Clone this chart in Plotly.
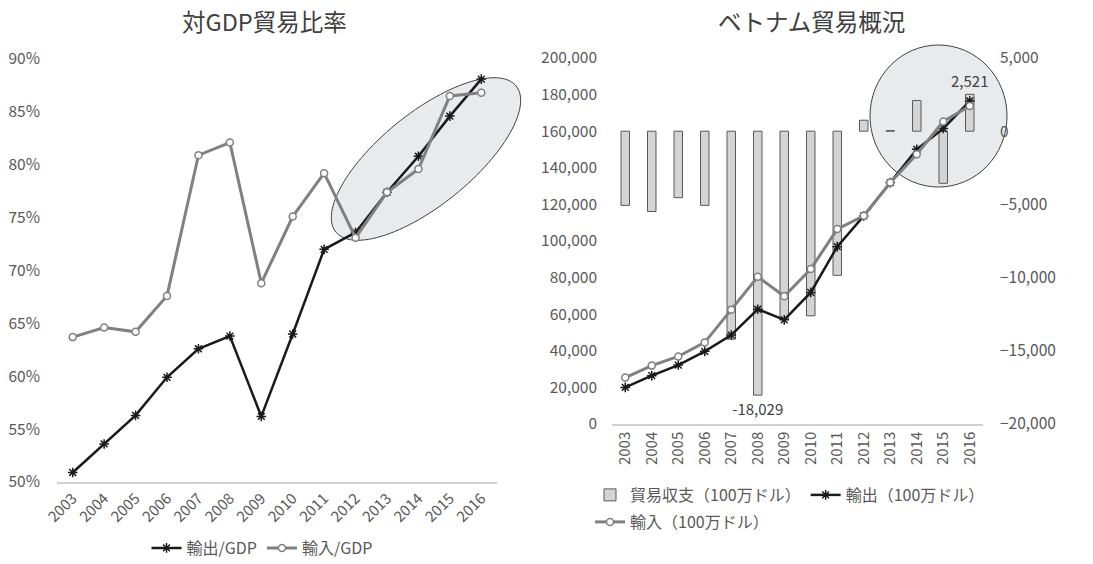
import numpy as np
import plotly.graph_objects as go

years = [str(y) for y in range(2003, 2017)]
export_gdp = [50.9, 53.6, 56.3, 59.9, 62.6, 63.8, 56.2, 64.0, 72.0, 73.6, 77.4, 80.8, 84.6, 88.1]
import_gdp = [63.7, 64.6, 64.2, 67.6, 80.9, 82.1, 68.8, 75.1, 79.2, 73.1, 77.4, 79.6, 86.5, 86.8]

trade_balance = [-5068, -5484, -4539, -5065, -14203, -18029, -12853, -12609, -9844, 749, 40, 2100, -3559, 2521]
exports = [20000, 26400, 32200, 39700, 48600, 62700, 56900, 71900, 96900, 113700, 131900, 150100, 161500, 176500]
imports = [25400, 31900, 36900, 44600, 62500, 80500, 69800, 84700, 106500, 113800, 131900, 147400, 165300, 173800]

FONT = "Noto Sans CJK JP"
TICK = "#595959"
W, H = 1093, 564

def px(x):
    return x / W

def py(y):
    return 1 - y / H

fig = go.Figure()

# Left chart
fig.add_trace(go.Scatter(x=years, y=[v / 100 for v in export_gdp], mode="lines+markers",
                         name="輸出/GDP", line=dict(color="#1a1a1a", width=2.5),
                         marker=dict(symbol="asterisk-open", size=8, color="#1a1a1a", line=dict(width=1.5, color="#1a1a1a")),
                         xaxis="x", yaxis="y", legend="legend"))
fig.add_trace(go.Scatter(x=years, y=[v / 100 for v in import_gdp], mode="lines+markers",
                         name="輸入/GDP", line=dict(color="#808080", width=3),
                         marker=dict(symbol="circle", size=7, color="white", line=dict(width=1.5, color="#808080")),
                         xaxis="x", yaxis="y", legend="legend"))

# Right chart: bars (right axis) then lines (left axis overlay)
labels = [f"{v:,}" if i in (int(np.argmin(trade_balance)), len(trade_balance) - 1) else "" for i, v in enumerate(trade_balance)]
fig.add_trace(go.Bar(x=years, y=trade_balance, name="貿易収支（100万ドル）", width=0.32,
                     marker=dict(color="#D4D4D4", line=dict(color="#595959", width=1)),
                     text=labels, textposition="outside", constraintext="none", cliponaxis=False,
                     textfont=dict(size=15, color="#404040", family=FONT),
                     xaxis="x2", yaxis="y2", legend="legend2"))
fig.add_trace(go.Scatter(x=years, y=exports, mode="lines+markers", name="輸出（100万ドル）",
                         line=dict(color="#1a1a1a", width=2.5),
                         marker=dict(symbol="asterisk-open", size=8, color="#1a1a1a", line=dict(width=1.5, color="#1a1a1a")),
                         xaxis="x2", yaxis="y3", legend="legend2"))
fig.add_trace(go.Scatter(x=years, y=imports, mode="lines+markers", name="輸入（100万ドル）",
                         line=dict(color="#808080", width=3),
                         marker=dict(symbol="circle", size=7, color="white", line=dict(width=1.5, color="#808080")),
                         xaxis="x2", yaxis="y3", legend="legend3"))

tickfont = dict(family=FONT, size=15.5, color=TICK)
legfont = dict(family=FONT, size=16, color=TICK)

# Left ellipse (rotated) as path in paper coords
cx, cy, a, b, phi = 426, 159, 116, 46, np.deg2rad(39)
t = np.linspace(0, 2 * np.pi, 120)
ex = cx + a * np.cos(t) * np.cos(phi) + b * np.sin(t) * np.sin(phi)
ey = cy - a * np.cos(t) * np.sin(phi) + b * np.sin(t) * np.cos(phi)
path = "M " + " L ".join(f"{px(x):.5f},{py(y):.5f}" for x, y in zip(ex, ey)) + " Z"

fig.update_layout(
    width=W, height=H, margin=dict(l=0, r=0, t=0, b=0, autoexpand=False),
    paper_bgcolor="white", plot_bgcolor="rgba(0,0,0,0)",
    font=dict(family=FONT, color=TICK),
    xaxis=dict(domain=[px(57), px(497)], type="category", range=[-0.5, 13.5],
               tickangle=-45, tickfont=dict(family=FONT, size=15, color=TICK),
               showline=True, linecolor="#D0D0D0", linewidth=1.5, ticks="", showgrid=False, anchor="y",
               automargin=False),
    yaxis=dict(domain=[py(482), py(59)], range=[0.5, 0.9], dtick=0.05, tickformat=".0%",
               tickfont=tickfont, showgrid=False, zeroline=False, showline=False, ticks="",
               ticklabelstandoff=16, anchor="x", automargin=False),
    xaxis2=dict(domain=[px(612), px(983)], type="category", range=[-0.5, 13.5],
                tickangle=-90, tickfont=dict(family=FONT, size=15, color=TICK),
                showline=True, linecolor="#D0D0D0", linewidth=1.5, ticks="", showgrid=False, anchor="y3",
                automargin=False),
    yaxis2=dict(domain=[py(424), py(58)], range=[-20000, 5000], dtick=5000, tickformat=",d",
                side="right", anchor="x2", tickfont=tickfont, showgrid=False, zeroline=False,
                ticks="", ticklabelstandoff=16, automargin=False),
    yaxis3=dict(domain=[py(424), py(58)], range=[0, 200000], dtick=20000, tickformat=",d",
                side="left", overlaying="y2", anchor="x2", tickfont=tickfont, showgrid=False,
                zeroline=False, ticks="", ticklabelstandoff=14, automargin=False),
    legend=dict(orientation="h", x=px(262), xanchor="center", y=py(548), yanchor="middle",
                font=legfont, bgcolor="rgba(0,0,0,0)", itemwidth=30, tracegroupgap=0),
    legend2=dict(orientation="h", x=px(590), xanchor="left", y=py(495), yanchor="middle",
                 font=legfont, bgcolor="rgba(0,0,0,0)", itemwidth=30),
    legend3=dict(orientation="h", x=px(590), xanchor="left", y=py(522), yanchor="middle",
                 font=legfont, bgcolor="rgba(0,0,0,0)", itemwidth=30),
    shapes=[
        dict(type="path", path=path, xref="paper", yref="paper", layer="below",
             fillcolor="#E9EAEC", line=dict(color="#404040", width=1)),
        dict(type="circle", xref="paper", yref="paper", layer="below",
             x0=px(870), x1=px(1007), y0=py(187), y1=py(45),
             fillcolor="#E9EAEC", line=dict(color="#404040", width=1)),
    ],
    annotations=[
        dict(text="対GDP貿易比率", x=px(264), y=py(21), xref="paper", yref="paper", showarrow=False,
             xanchor="center", yanchor="middle",
             font=dict(family=FONT, size=23.5, color="#404040")),
        dict(text="ベトナム貿易概況", x=px(811), y=py(21), xref="paper", yref="paper", showarrow=False,
             xanchor="center", yanchor="middle",
             font=dict(family=FONT, size=23.5, color="#404040")),
    ],
)

fig.write_html("out.html")
